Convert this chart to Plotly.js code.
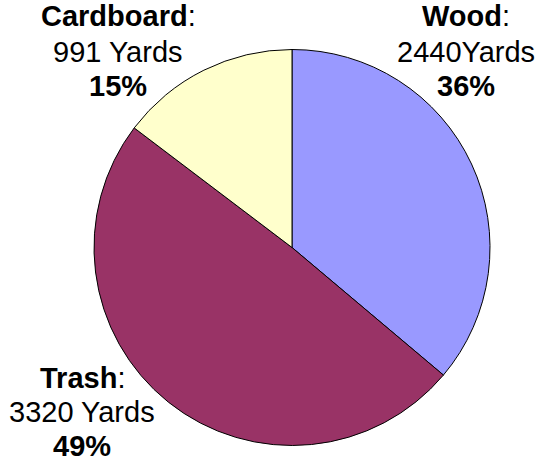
<!DOCTYPE html>
<html>
<head>
<meta charset="utf-8">
<script src="https://cdn.plot.ly/plotly-3.0.1.min.js"></script>
<style>html,body{margin:0;padding:0;background:#fff;}#chart{width:539px;height:461px;}</style>
</head>
<body>
<div id="chart"></div>
<script>
const categories = ['Wood', 'Trash', 'Cardboard'];
const yards = [2440, 3320, 991];
const yardTexts = ['2440Yards', '3320 Yards', '991 Yards'];
const percentTexts = ['36%', '49%', '15%'];
const colors = ['#9999FF', '#993366', '#FFFFCC'];

const W = 539, H = 461;
// label block placement (pixel centers) per category
const labelPos = [
  {x: 466, y: [16, 52, 86]},
  {x: 82, y: [378, 412, 446]},
  {x: 118, y: [16, 52, 86]}
];

const annotations = [];
categories.forEach((c, i) => {
  const lines = ['<b>' + c + '</b>:', yardTexts[i], '<b>' + percentTexts[i] + '</b>'];
  lines.forEach((t, j) => {
    annotations.push({
      text: t, xref: 'paper', yref: 'paper',
      x: labelPos[i].x / W, y: 1 - labelPos[i].y[j] / H,
      xanchor: 'center', yanchor: 'middle', showarrow: false,
      font: {family: 'Liberation Sans, Arial, sans-serif', size: 29, color: '#000'}
    });
  });
});

const data = [{
  type: 'pie',
  labels: categories,
  values: yards,
  sort: false,
  direction: 'clockwise',
  rotation: 0,
  marker: {colors: colors, line: {color: '#000', width: 1}},
  textinfo: 'none',
  hoverinfo: 'label+value+percent',
  domain: {x: [94 / W, 490 / W], y: [1 - 445.5 / H, 1 - 49.5 / H]}
}];

const layout = {
  width: W, height: H,
  margin: {l: 0, r: 0, t: 0, b: 0},
  showlegend: false,
  paper_bgcolor: '#fff',
  annotations: annotations
};

Plotly.newPlot('chart', data, layout, {displayModeBar: false, staticPlot: true});
</script>
</body>
</html>
